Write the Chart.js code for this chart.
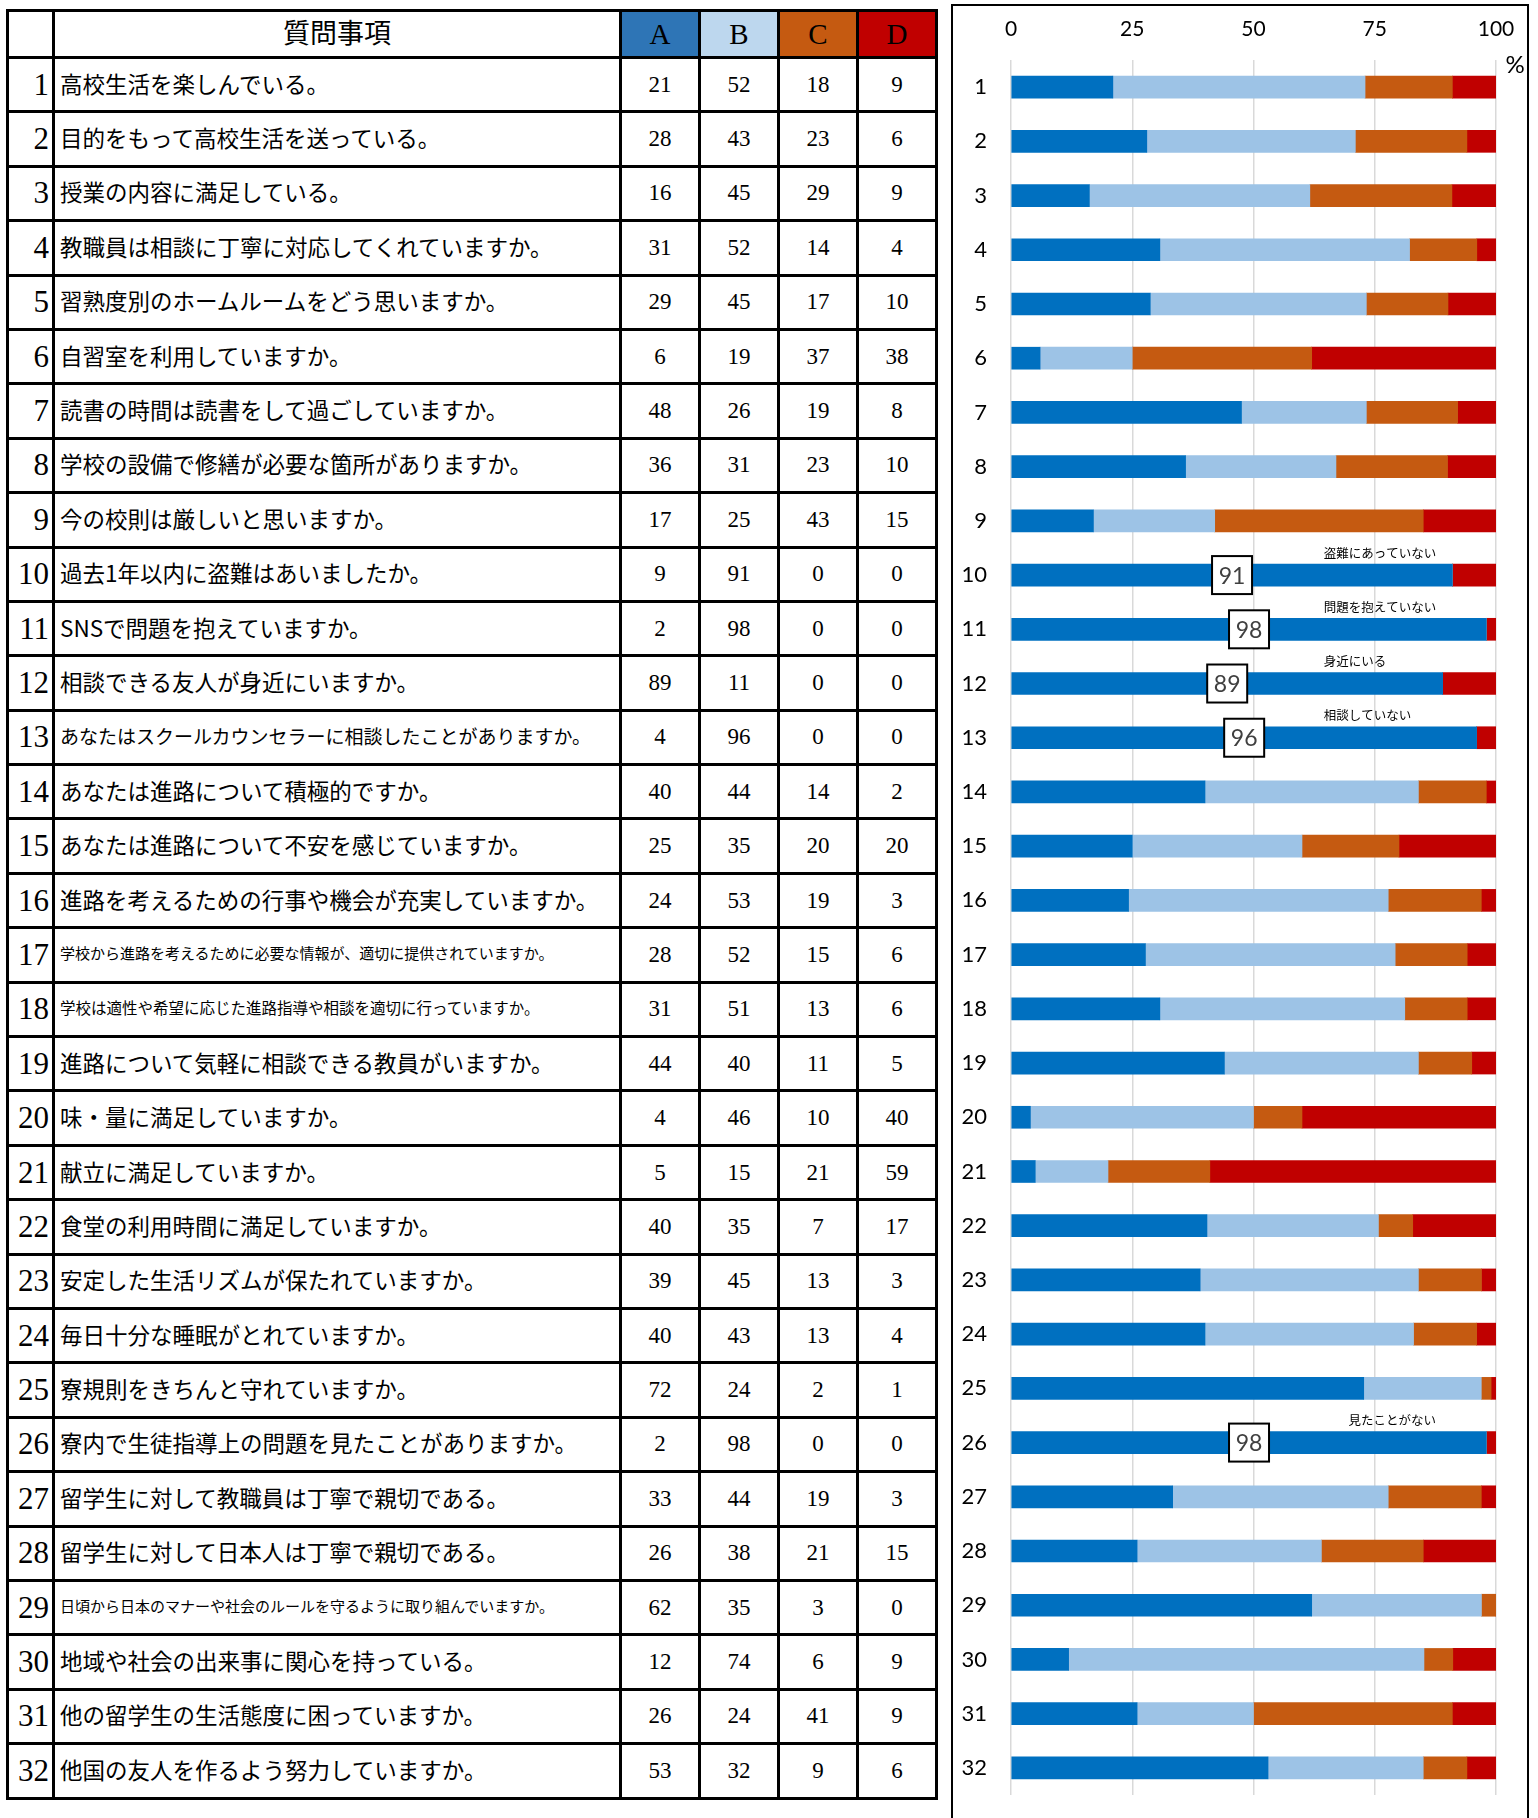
<!DOCTYPE html>
<html lang="ja">
<head>
<meta charset="utf-8">
<title>アンケート結果</title>
<script src="https://cdn.jsdelivr.net/npm/chart.js@4.4.1/dist/chart.umd.min.js"></script>
<style>
html, body { margin: 0; padding: 0; background: #fff; width: 1538px; height: 1818px; overflow: hidden; }
#survey-table { position: absolute; left: 6px; top: 9px; border-collapse: collapse; table-layout: fixed; }
#survey-table td { border: 3px solid #000; padding: 0; white-space: nowrap; overflow: hidden; background: #fff; }
#survey-table tr.head td { height: 44px; }
#survey-table tr.row td { height: 51.4px; }
#survey-table td span { position: relative; }
.no { text-align: right; padding-right: 3px !important; font-family: "Liberation Serif", serif; font-size: 31px; }
.q { text-align: left; padding-left: 5px !important; font-family: "Noto Sans CJK JP", sans-serif; font-size: 22.5px; }
.q span { top: -2px; }
.v { text-align: center; font-family: "Liberation Serif", serif; font-size: 23px; }
.qhead { text-align: center; font-family: "Noto Sans CJK JP", sans-serif; font-size: 27px; }
.qhead span { top: -3px; }
.vhead { text-align: center; font-family: "Liberation Serif", serif; font-size: 29px; }
#chart-panel { position: absolute; left: 951px; top: 4px; width: 578px; height: 1840px; border: 2px solid #000; box-sizing: border-box; }
#chart-box { position: absolute; left: 952px; top: 5px; width: 576px; height: 1813px; }
</style>
</head>
<body>
<table id="survey-table">
  <colgroup>
    <col style="width:46px"><col style="width:567px"><col style="width:79px"><col style="width:79px"><col style="width:79px"><col style="width:79px">
  </colgroup>
  <tbody id="survey-body"></tbody>
</table>
<div id="chart-panel"></div>
<div id="chart-box"><canvas id="survey-chart"></canvas></div>
<script>
// Question numbers (also the chart's categories)
const rowLabels = ['1','2','3','4','5','6','7','8','9','10','11','12','13','14','15','16',
                   '17','18','19','20','21','22','23','24','25','26','27','28','29','30','31','32'];

const questions = [
    '高校生活を楽しんでいる。',
    '目的をもって高校生活を送っている。',
    '授業の内容に満足している。',
    '教職員は相談に丁寧に対応してくれていますか。',
    '習熟度別のホームルームをどう思いますか。',
    '自習室を利用していますか。',
    '読書の時間は読書をして過ごしていますか。',
    '学校の設備で修繕が必要な箇所がありますか。',
    '今の校則は厳しいと思いますか。',
    '過去1年以内に盗難はあいましたか。',
    'SNSで問題を抱えていますか。',
    '相談できる友人が身近にいますか。',
    'あなたはスクールカウンセラーに相談したことがありますか。',
    'あなたは進路について積極的ですか。',
    'あなたは進路について不安を感じていますか。',
    '進路を考えるための行事や機会が充実していますか。',
    '学校から進路を考えるために必要な情報が、適切に提供されていますか。',
    '学校は適性や希望に応じた進路指導や相談を適切に行っていますか。',
    '進路について気軽に相談できる教員がいますか。',
    '味・量に満足していますか。',
    '献立に満足していますか。',
    '食堂の利用時間に満足していますか。',
    '安定した生活リズムが保たれていますか。',
    '毎日十分な睡眠がとれていますか。',
    '寮規則をきちんと守れていますか。',
    '寮内で生徒指導上の問題を見たことがありますか。',
    '留学生に対して教職員は丁寧で親切である。',
    '留学生に対して日本人は丁寧で親切である。',
    '日頃から日本のマナーや社会のルールを守るように取り組んでいますか。',
    '地域や社会の出来事に関心を持っている。',
    '他の留学生の生活態度に困っていますか。',
    '他国の友人を作るよう努力していますか。'
];

// Table values (%)
const valuesA = [21,28,16,31,29, 6,48,36,17, 9, 2,89, 4,40,25,24,28,31,44, 4, 5,40,39,40,72, 2,33,26,62,12,26,53];
const valuesB = [52,43,45,52,45,19,26,31,25,91,98,11,96,44,35,53,52,51,40,46,15,35,45,43,24,98,44,38,35,74,24,32];
const valuesC = [18,23,29,14,17,37,19,23,43, 0, 0, 0, 0,14,20,19,15,13,11,10,21, 7,13,13, 2, 0,19,21, 3, 6,41, 9];
const valuesD = [ 9, 6, 9, 4,10,38, 8,10,15, 0, 0, 0, 0, 2,20, 3, 6, 6, 5,40,59,17, 3, 4, 1, 0, 3,15, 0, 9, 9, 6];

// Bar chart values (yes/no questions 10-13, 26 are shown as two parts)
const barA = [21,28,16,31,29, 6,48,36,17,91,98,89,96,40,25,24,28,31,44, 4, 5,40,39,40,72,98,33,26,62,12,26,53];
const barB = [52,43,45,52,45,19,26,31,25, 0, 0, 0, 0,44,35,53,52,51,40,46,15,35,45,43,24, 0,44,38,35,74,24,32];
const barC = [18,23,29,14,17,37,19,23,43, 0, 0, 0, 0,14,20,19,15,13,11,10,21, 7,13,13, 2, 0,19,21, 3, 6,41, 9];
const barD = [ 9, 6, 9, 4,10,38, 8,10,15, 9, 2,11, 4, 2,20, 3, 6, 6, 5,40,59,17, 3, 4, 1, 2, 3,15, 0, 9, 9, 6];

const tickValues = [0, 25, 50, 75, 100];

// Notes above the yes/no bars
const noteRows = [10, 11, 12, 13, 26];
const noteTexts = ['盗難にあっていない', '問題を抱えていない', '身近にいる', '相談していない', '見たことがない'];

const headColors = { A: '#2E75B6', B: '#BDD7EE', C: '#C55A11', D: '#C00000' };
const smallRows = { 13: 19, 17: 15, 18: 15.5, 29: 15 };

function makeCell(cls, text) {
    const cell = document.createElement('td');
    cell.className = cls;
    const span = document.createElement('span');
    span.textContent = text;
    cell.appendChild(span);
    return cell;
}

// Build the table
function buildTable() {
    const body = document.getElementById('survey-body');
    const head = document.createElement('tr');
    head.className = 'head';
    head.appendChild(makeCell('', ''));
    head.appendChild(makeCell('qhead', '質問事項'));
    Object.keys(headColors).forEach(key => {
        const cell = makeCell('vhead', key);
        cell.style.background = headColors[key];
        head.appendChild(cell);
    });
    body.appendChild(head);

    questions.forEach((q, i) => {
        const tr = document.createElement('tr');
        tr.className = 'row';
        tr.appendChild(makeCell('no', rowLabels[i]));
        const qc = makeCell('q', q);
        if (smallRows[i + 1]) qc.style.fontSize = smallRows[i + 1] + 'px';
        tr.appendChild(qc);
        [valuesA, valuesB, valuesC, valuesD].forEach(vals => {
            tr.appendChild(makeCell('v', vals[i]));
        });
        body.appendChild(tr);
    });
}

// 100% stacked: each bar is scaled to its row total
const rowTotals = barA.map((v, i) => v + barB[i] + barC[i] + barD[i]);
const toShare = arr => arr.map((v, i) => v * 100 / rowTotals[i]);

// Boxed value labels, notes and the % sign
const notePlugin = {
    id: 'notes',
    afterDatasetsDraw(chart, args, opts) {
        const ctx = chart.ctx;
        const meta = chart.getDatasetMeta(0);
        ctx.save();
        noteRows.forEach((row, k) => {
            const bar = meta.data[row - 1];
            const cx = (bar.x + bar.base) / 2;
            const cy = bar.y;
            ctx.fillStyle = '#fff';
            ctx.fillRect(cx - 20, cy - 19, 40, 38);
            ctx.lineWidth = 2;
            ctx.strokeStyle = '#000';
            ctx.strokeRect(cx - 20, cy - 19, 40, 38);
            ctx.fillStyle = '#404040';
            ctx.font = '23px Lato';
            ctx.textAlign = 'center';
            ctx.textBaseline = 'middle';
            ctx.fillText(String(barA[row - 1]), cx, cy + 1);

            ctx.fillStyle = '#000';
            ctx.font = '12.5px "Noto Sans CJK JP"';
            ctx.textAlign = 'left';
            ctx.fillText(noteTexts[k], chart.scales.x.getPixelForValue(opts.noteX[k]), cy - 22);
        });
        ctx.fillStyle = '#000';
        ctx.font = '24px Lato';
        ctx.textAlign = 'center';
        ctx.textBaseline = 'middle';
        ctx.fillText('%', chart.chartArea.right + 19, chart.chartArea.top + 5);
        ctx.restore();
    }
};

function createChart() {
    const ctx = document.getElementById('survey-chart').getContext('2d');
    new Chart(ctx, {
        type: 'bar',
        data: {
            labels: rowLabels,
            datasets: [
                { label: 'A', data: toShare(barA), backgroundColor: '#0070C0' },
                { label: 'B', data: toShare(barB), backgroundColor: '#9DC3E6' },
                { label: 'C', data: toShare(barC), backgroundColor: '#C55A11' },
                { label: 'D', data: toShare(barD), backgroundColor: '#C00000' }
            ]
        },
        options: {
            indexAxis: 'y',
            responsive: true,
            maintainAspectRatio: false,
            animation: false,
            layout: { padding: { top: 0, left: 0, right: 32, bottom: 23 } },
            datasets: { bar: { barThickness: 22, clip: 0, borderWidth: 0 } },
            plugins: {
                legend: { display: false },
                tooltip: { enabled: false },
                notes: { noteX: [64.5, 64.5, 64.5, 64.5, 69.6] }
            },
            scales: {
                x: {
                    position: 'top',
                    stacked: true,
                    min: 0,
                    max: 100,
                    afterBuildTicks: scale => { scale.ticks = tickValues.map(v => ({ value: v })); },
                    afterFit: scale => {
                        scale.height = 55;
                        scale.paddingLeft = 0;
                        scale.paddingRight = 0;
                    },
                    ticks: { padding: 18, color: '#000', font: { family: 'Lato', size: 21 } },
                    grid: { color: '#D9D9D9', lineWidth: 1.5, drawTicks: false },
                    border: { display: false }
                },
                y: {
                    stacked: true,
                    afterFit: scale => {
                        scale.width = 59;
                        scale.paddingTop = 0;
                        scale.paddingBottom = 0;
                    },
                    ticks: { padding: 24, color: '#000', font: { family: 'Lato', size: 22 } },
                    grid: { display: false, drawTicks: false },
                    border: { display: false }
                }
            }
        },
        plugins: [notePlugin]
    });
}

buildTable();
createChart();
</script>
</body>
</html>
